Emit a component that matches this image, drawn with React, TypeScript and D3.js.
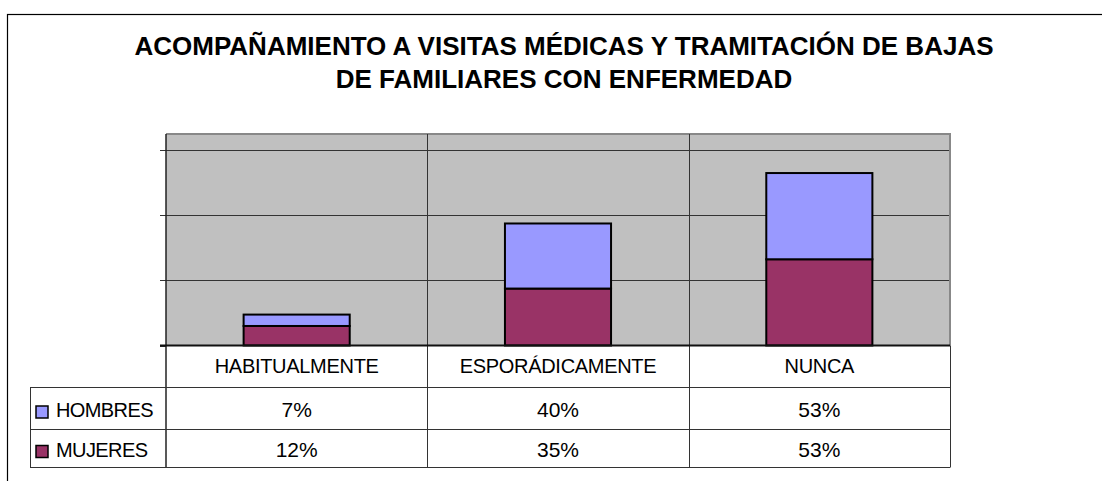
import React from "react";
import * as d3 from "d3";

const categories = ["HABITUALMENTE", "ESPORÁDICAMENTE", "NUNCA"];
const seriesNames = ["HOMBRES", "MUJERES"];
const hombres = [7, 40, 53];
const mujeres = [12, 35, 53];
const yTicks = [0, 40, 80, 120];
const titleLines = [
  "ACOMPAÑAMIENTO A VISITAS MÉDICAS Y TRAMITACIÓN DE BAJAS",
  "DE FAMILIARES CON ENFERMEDAD",
];

const W = 1102;
const H = 481;
const FONT = "'Liberation Sans', Arial, Helvetica, sans-serif";
const colors: Record<string, string> = { HOMBRES: "#9999FF", MUJERES: "#993366" };

export default function App() {
  const plotLeft = 166;
  const plotRight = 950;
  const plotTop = 134;
  const plotBottom = 345.5;
  const tableRows = [345.5, 387.5, 429.5, 467.5];
  const legendLeft = 30;

  const x = d3.scaleBand<string>().domain(categories).range([plotLeft, plotRight]).paddingInner(0).paddingOuter(0);
  const y = d3.scaleLinear().domain([0, 130]).range([plotBottom, plotTop]);
  const barW = x.bandwidth() * 0.406;

  const table = categories.map((c, i) => ({ cat: c, MUJERES: mujeres[i], HOMBRES: hombres[i] }));
  const stack = d3.stack<any>().keys(["MUJERES", "HOMBRES"])(table);

  const values: Record<string, number[]> = { HOMBRES: hombres, MUJERES: mujeres };

  return (
    <svg width={W} height={H} style={{ position: "absolute", left: 0, top: 0, background: "#fff" }} fontFamily={FONT}>
      {/* outer chart border */}
      <rect x={7.5} y={14.5} width={W + 20} height={H + 20} fill="#fff" stroke="#000" strokeWidth={1.2} />

      {/* title */}
      {titleLines.map((t, i) => (
        <text key={i} x={564} y={55 + i * 33} textAnchor="middle" fontWeight="bold" fontSize={26} fill="#000">
          {t}
        </text>
      ))}

      {/* plot area */}
      <rect x={plotLeft} y={plotTop} width={plotRight - plotLeft} height={plotBottom - plotTop} fill="#C0C0C0" />

      {/* gridlines */}
      {yTicks.filter((t) => t > 0).map((t) => (
        <line key={t} x1={plotLeft} x2={plotRight} y1={Math.round(y(t)) + 0.5} y2={Math.round(y(t)) + 0.5} stroke="#333" strokeWidth={1} />
      ))}
      {/* ticks */}
      {yTicks.map((t) => (
        <line key={"t" + t} x1={plotLeft - 6} x2={plotLeft} y1={Math.round(y(t)) + 0.5} y2={Math.round(y(t)) + 0.5} stroke="#333" strokeWidth={1} />
      ))}

      {/* plot border top/right */}
      <line x1={plotLeft} x2={plotRight + 1} y1={plotTop} y2={plotTop} stroke="#888" strokeWidth={2} />
      <line x1={plotRight} x2={plotRight} y1={plotTop} y2={plotBottom} stroke="#888" strokeWidth={2} />

      {/* category dividers through plot and table */}
      {categories.slice(1).map((c) => (
        <line key={c} x1={Math.round(x(c)!) + 0.5} x2={Math.round(x(c)!) + 0.5} y1={plotTop} y2={tableRows[3]} stroke="#333" strokeWidth={1} />
      ))}

      {/* bars */}
      {stack.map((layer) =>
        layer.map((d, i) => {
          const cx = x(categories[i])! + x.bandwidth() / 2;
          return (
            <rect
              key={layer.key + i}
              x={cx - barW / 2}
              y={y(d[1])}
              width={barW}
              height={y(d[0]) - y(d[1])}
              fill={colors[layer.key]}
              stroke="#000"
              strokeWidth={2}
            />
          );
        })
      )}

      {/* axis lines */}
      <line x1={plotLeft} x2={plotLeft} y1={plotTop} y2={tableRows[3]} stroke="#222" strokeWidth={1.5} />
      <line x1={plotLeft - 6} x2={plotRight} y1={plotBottom} y2={plotBottom} stroke="#111" strokeWidth={2} />

      {/* table */}
      <line x1={plotRight + 0.5} x2={plotRight + 0.5} y1={plotBottom} y2={tableRows[3]} stroke="#333" strokeWidth={1} />
      {[tableRows[1], tableRows[2], tableRows[3]].map((ry, i) => (
        <line key={"r" + i} x1={legendLeft} x2={plotRight} y1={ry} y2={ry} stroke="#333" strokeWidth={1} />
      ))}
      <line x1={legendLeft + 0.5} x2={legendLeft + 0.5} y1={tableRows[1]} y2={tableRows[3]} stroke="#333" strokeWidth={1} />

      {categories.map((c) => (
        <text key={c} x={x(c)! + x.bandwidth() / 2} y={372.5} textAnchor="middle" fontSize={20} fill="#000" letterSpacing={-0.3}>
          {c}
        </text>
      ))}

      {seriesNames.map((s, r) => {
        const baseY = r === 0 ? 416.8 : 456.5;
        const swY = r === 0 ? 406 : 445.5;
        return (
          <g key={s}>
            <rect x={36} y={swY} width={12} height={12} fill={colors[s]} stroke="#000" strokeWidth={1.5} />
            <text x={56} y={baseY} fontSize={20} fill="#000" letterSpacing={-0.6}>
              {s}
            </text>
            {categories.map((c, i) => (
              <text key={c} x={x(c)! + x.bandwidth() / 2} y={baseY} textAnchor="middle" fontSize={21} fill="#000">
                {values[s][i] + "%"}
              </text>
            ))}
          </g>
        );
      })}
    </svg>
  );
}
